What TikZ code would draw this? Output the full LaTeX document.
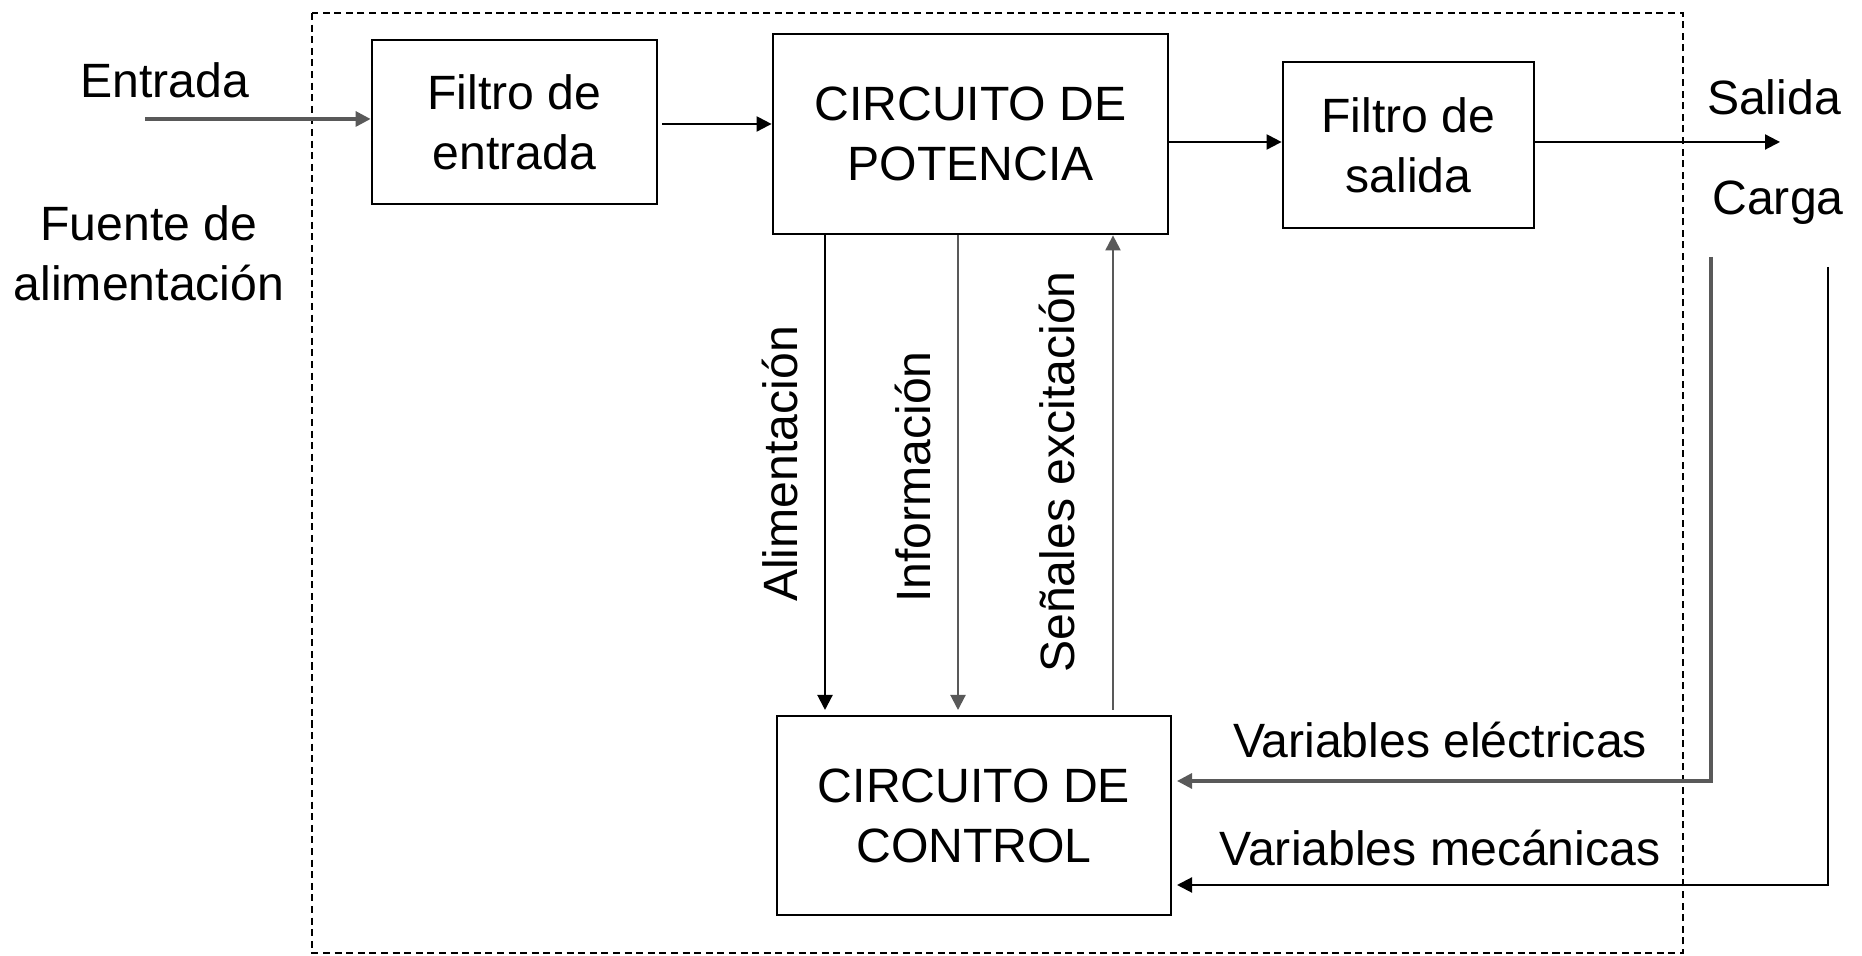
\documentclass[tikz,border=0pt]{standalone}
\usepackage{fontspec}
\setmainfont{Liberation Sans}
\usetikzlibrary{arrows.meta}

\begin{document}
\begin{tikzpicture}[
    font=\fontsize{13.7}{17.1}\selectfont,
    block/.style={draw,line width=0.8pt,align=center,inner sep=0pt},
    label/.style={align=center,inner sep=0pt},
    flow/.style={line width=0.6pt,-{Triangle[length=1.5mm,width=1.5mm]}},
    soft/.style={draw=gray!70!black},
    frame/.style={line width=0.5pt,dash pattern=on 2pt off 1.3pt}]
  \useasboundingbox (0,0) rectangle (18.62,9.56);
  % system boundary
  \draw[frame] (3.12,9.43) rectangle (16.83,0.03);
  % blocks
  \node[block,minimum width=2.85cm,minimum height=1.64cm] (fin) at (5.145,8.34) {Filtro de\\entrada};
  \node[block,minimum width=3.95cm,minimum height=2.0cm] (pot) at (9.705,8.22) {CIRCUITO DE\\POTENCIA};
  \node[block,minimum width=2.51cm,minimum height=1.66cm] (fout) at (14.085,8.11) {Filtro de\\salida};
  \node[block,minimum width=3.94cm,minimum height=1.99cm,outer sep=0.06cm] (ctl) at (9.74,1.405) {CIRCUITO DE\\CONTROL};
  % outside texts
  \node[label] (entrada) at (1.65,8.76) {Entrada};
  \node[label] (fuente) at (1.49,7.03) {Fuente de\\alimentaci\'on};
  \node[label] (salida) at (17.74,8.59) {Salida};
  \node[label] (carga) at (17.78,7.53) {Carga};
  \coordinate (in) at (1.45,8.37);
  \coordinate (out) at (17.80,8.11);
  \coordinate (elec) at (17.11,6.99);
  \coordinate (mec) at (18.28,6.89);
  % main power path
  \draw[flow,soft,line width=0.9pt] (in) -- (in -| fin.west);
  \draw[flow] ([xshift=0.04cm]fin.east |- 0,8.32) -- (pot.west |- 0,8.32);
  \draw[flow] (pot.east |- 0,8.14) -- (fout.west |- 0,8.14);
  \draw[flow] (fout.east |- 0,8.14) -- (out |- 0,8.14);
  % links between power and control
  \draw[flow] (pot.south -| 8.25,0) -- (ctl.north -| 8.25,0);
  \draw[flow,soft] (pot.south -| 9.58,0) -- (ctl.north -| 9.58,0);
  \draw[flow,soft] (ctl.north -| 11.13,0) -- (pot.south -| 11.13,0);
  \node[label,rotate=90] (alim) at (7.80,4.92) {Alimentaci\'on};
  \node[label,rotate=90] (info) at (9.13,4.79) {Informaci\'on};
  \node[label,rotate=90] (exc) at (10.57,4.84) {Se\~nales excitaci\'on};
  % feedback from the load
  \draw[flow,soft,line width=0.9pt] (elec) -- (elec |- 0,1.75) -- (ctl.east |- 0,1.75);
  \draw[flow] (mec) -- (mec |- 0,0.71) -- (ctl.east |- 0,0.71);
  \node[label] (velec) at (14.40,2.16) {Variables el\'ectricas};
  \node[label] (vmec) at (14.40,1.08) {Variables mec\'anicas};
\end{tikzpicture}
\end{document}
